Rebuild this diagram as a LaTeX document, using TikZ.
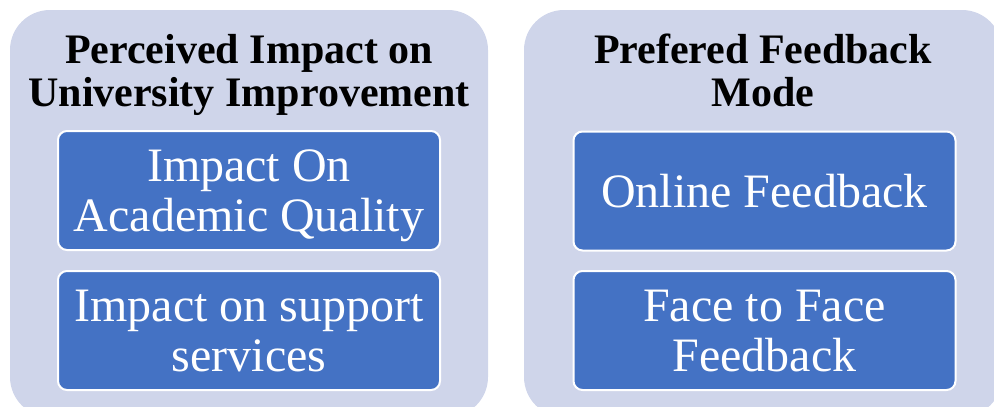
\documentclass[tikz,border=0pt]{standalone}
\usepackage{fontspec}
\setmainfont{Liberation Serif}
\definecolor{lav}{RGB}{207,213,234}
\definecolor{blu}{RGB}{68,114,196}
\begin{document}
\begin{tikzpicture}[x=1pt,y=-1pt,
  panel/.style={fill=lav, draw=none, rounded corners=40pt, minimum width=478pt, minimum height=407pt, inner sep=0pt},
  paneltitle/.style={font=\fontsize{42}{43}\selectfont\bfseries, align=center, inner sep=0pt, anchor=center, text depth=0pt},
  item/.style={fill=blu, draw=white, line width=2pt, rounded corners=9pt, minimum width=382pt, minimum height=119pt, align=center, text=white, font=\fontsize{48}{50}\selectfont, inner sep=0pt, text depth=0pt}]
\useasboundingbox (0,0) rectangle (994,407);
\clip (0,0) rectangle (994,407);
\node[panel] (pl) at (249,213.5) {};
\node[panel] (pr) at (763,213.5) {};
\node[paneltitle] (tl) at (249,70) {Perceived Impact on\\University Improvement};
\node[paneltitle] (tr) at (763,70) {Prefered Feedback\\Mode};
\node[item] (l1) at (249,190.5) {Impact On\\Academic Quality};
\node[item] (l2) at (249,330.5) {Impact on support\\services};
\node[item] (r1) at (764.5,191) {Online Feedback};
\node[item] (r2) at (764.5,330.5) {Face to Face\\Feedback};
\end{tikzpicture}
\end{document}
